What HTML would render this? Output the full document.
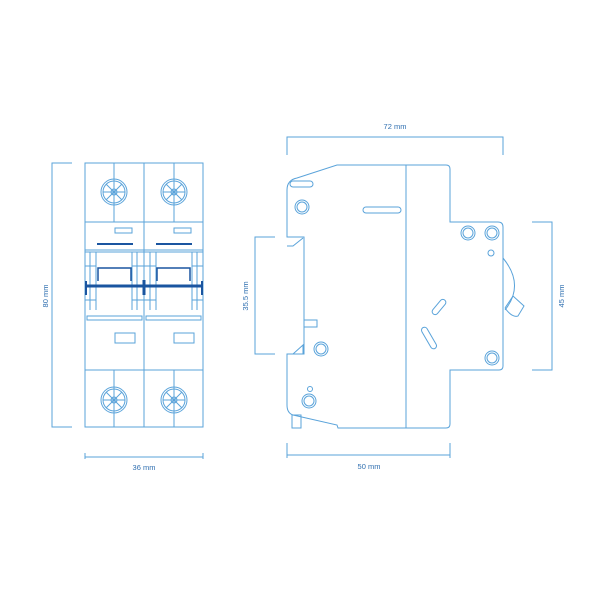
<!DOCTYPE html>
<html><head><style>
html,body{margin:0;padding:0;background:#fff;}
svg{display:block;}
text{font-family:"Liberation Sans",sans-serif;font-size:7.5px;fill:#2f6fb0;}
</style></head><body>
<svg width="600" height="600" viewBox="0 0 600 600" xmlns="http://www.w3.org/2000/svg">
<g fill="none" stroke="#5aa3da" stroke-width="1">
<!-- LEFT VIEW -->
<polyline points="72,163 52,163 52,427 72,427"/>
<line x1="85" y1="457" x2="203" y2="457"/>
<line x1="85" y1="453" x2="85" y2="459"/><line x1="203" y1="453" x2="203" y2="459"/>
<rect x="85" y="163" width="118" height="264"/>
<line x1="144" y1="163" x2="144" y2="427"/>
<line x1="114" y1="163" x2="114" y2="222"/><line x1="174" y1="163" x2="174" y2="222"/>
<line x1="114" y1="370" x2="114" y2="427"/><line x1="174" y1="370" x2="174" y2="427"/>
<line x1="85" y1="222" x2="203" y2="222"/>
<line x1="85" y1="250" x2="203" y2="250"/><line x1="85" y1="252" x2="203" y2="252"/>
<rect x="87" y="316" width="55" height="4"/><rect x="146" y="316" width="55" height="4"/>
<line x1="85" y1="370" x2="203" y2="370"/>
<rect x="115" y="228" width="17" height="5"/><rect x="174" y="228" width="17" height="5"/>
<rect x="115" y="333" width="20" height="10"/><rect x="174" y="333" width="20" height="10"/>
<!-- mid section verticals -->
<line x1="90" y1="252" x2="90" y2="310"/><line x1="96" y1="252" x2="96" y2="310"/>
<line x1="132" y1="252" x2="132" y2="310"/><line x1="137" y1="252" x2="137" y2="310"/>
<line x1="150" y1="252" x2="150" y2="310"/><line x1="156" y1="252" x2="156" y2="310"/>
<line x1="192" y1="252" x2="192" y2="310"/><line x1="197" y1="252" x2="197" y2="310"/>
<line x1="85" y1="266" x2="96" y2="266"/><line x1="132" y1="266" x2="156" y2="266"/><line x1="192" y1="266" x2="203" y2="266"/>
<line x1="85" y1="300" x2="96" y2="300"/><line x1="132" y1="300" x2="156" y2="300"/><line x1="192" y1="300" x2="203" y2="300"/>
<!-- screws -->
<g id="sc">
<circle cx="114" cy="192" r="13"/><circle cx="114" cy="192" r="11"/>
<line x1="114" y1="181" x2="114" y2="203"/><line x1="103" y1="192" x2="125" y2="192"/>
<line x1="106" y1="184" x2="122" y2="200"/><line x1="122" y1="184" x2="106" y2="200"/>
<circle cx="114" cy="192" r="3"/>
</g>
<use href="#sc" x="60"/><use href="#sc" y="208"/><use href="#sc" x="60" y="208"/>

<!-- RIGHT VIEW -->
<polyline points="287,155 287,137 503,137 503,155"/>
<line x1="287" y1="455" x2="450" y2="455"/>
<line x1="287" y1="443" x2="287" y2="458"/><line x1="450" y1="443" x2="450" y2="458"/>
<polyline points="275,237 255,237 255,354 275,354"/>
<polyline points="532,222 552,222 552,370 532,370"/>
<path d="M337,165 L446,165 Q450,165 450,169 L450,222 L498,222 Q503,222 503,227 L503,366 Q503,370 499,370 L450,370 L450,424 Q450,428 446,428 L338,428 L337,425 L293,415 Q287,413 287,405 L287,354 L304,354 L304,237 L287,237 L287,190 Q287,180 297,178 Z"/>
<line x1="406" y1="165" x2="406" y2="428"/>
<path d="M287,246 L293,246 L303,238"/>
<path d="M287,354 L293,354 L303,345 L303,354"/>
<rect x="304" y="320" width="13" height="7"/>
<rect x="292" y="415" width="9" height="13"/>
<rect x="290" y="181" width="23" height="6" rx="3"/>
<rect x="363" y="207" width="38" height="6" rx="3"/>
<circle cx="302" cy="207" r="7"/><circle cx="302" cy="207" r="5"/>
<circle cx="468" cy="233" r="7"/><circle cx="468" cy="233" r="5"/>
<circle cx="492" cy="233" r="7"/><circle cx="492" cy="233" r="5"/>
<circle cx="492" cy="358" r="7"/><circle cx="492" cy="358" r="5"/>
<circle cx="321" cy="349" r="7"/><circle cx="321" cy="349" r="5"/>
<circle cx="309" cy="401" r="7"/><circle cx="309" cy="401" r="5"/>
<circle cx="310" cy="389" r="2.5"/><circle cx="491" cy="253" r="3"/>
<rect x="430" y="304" width="18" height="6" rx="3" transform="rotate(-50 439 307)"/>
<rect x="417" y="335" width="24" height="6" rx="3" transform="rotate(60 429 338)"/>
<path d="M503,258 Q525,285 505,310"/>
<path d="M505,308 L513,296 L524,306 L518,316 Q512,318 505,308"/>
</g>
<g fill="none" stroke="#1a55a0">
<line x1="97" y1="244" x2="133" y2="244" stroke-width="2"/>
<line x1="156" y1="244" x2="192" y2="244" stroke-width="2"/>
<line x1="85" y1="286" x2="203" y2="286" stroke-width="3"/>
<polyline points="98,281 98,268 131,268 131,281" stroke-width="1.5"/>
<polyline points="157,281 157,268 190,268 190,281" stroke-width="1.5"/>
<line x1="144" y1="280" x2="144" y2="295" stroke-width="3"/>
<line x1="86" y1="281" x2="86" y2="295" stroke-width="2"/>
<line x1="202" y1="281" x2="202" y2="295" stroke-width="2"/>
</g>
<text x="395" y="129" text-anchor="middle">72 mm</text>
<text x="369" y="469" text-anchor="middle">50 mm</text>
<text x="144" y="470" text-anchor="middle">36 mm</text>
<text transform="translate(48,296) rotate(-90)" text-anchor="middle">80 mm</text>
<text transform="translate(248,296) rotate(-90)" text-anchor="middle">35.5 mm</text>
<text transform="translate(564,296) rotate(-90)" text-anchor="middle">45 mm</text>
</svg>
</body></html>
